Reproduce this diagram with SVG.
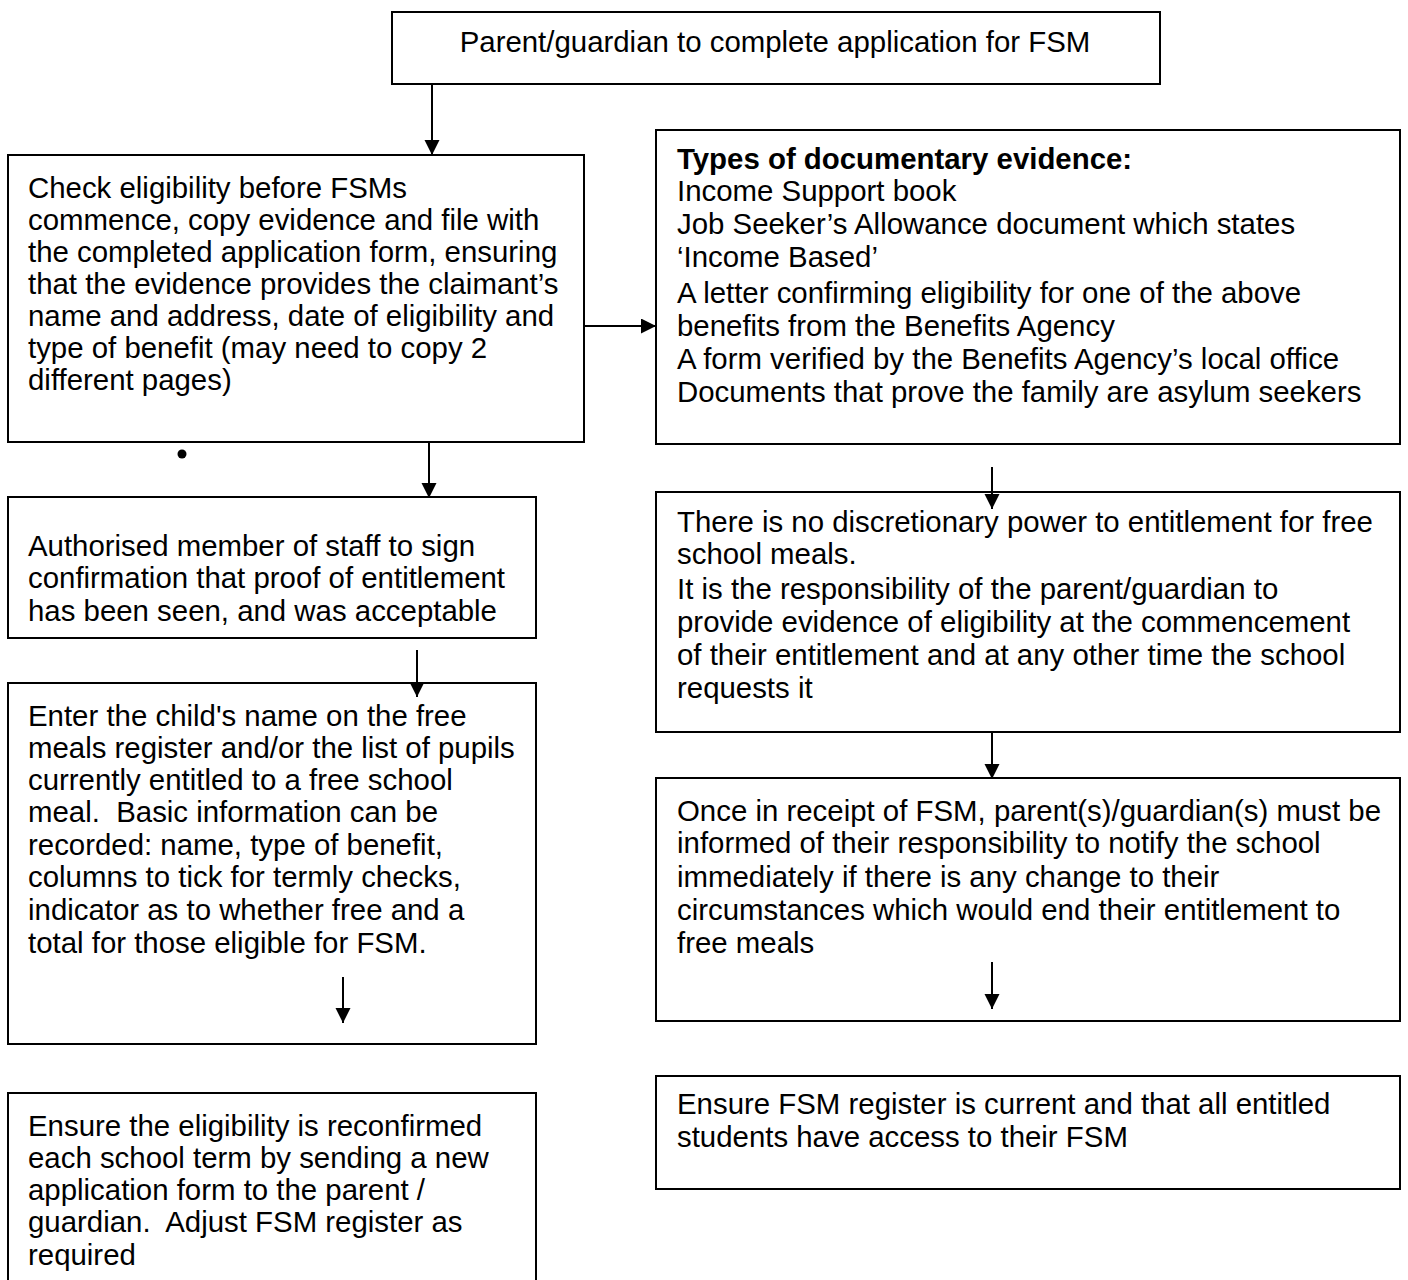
<svg xmlns="http://www.w3.org/2000/svg" width="1408" height="1280" viewBox="0 0 1408 1280">
<style>
.box{fill:#fff;stroke:#000;stroke-width:2}
.t{font-family:"Liberation Sans",Arial,sans-serif;font-size:29.4px;fill:#000;white-space:pre}
.b{font-weight:bold}
.c{stroke:#000;stroke-width:2;fill:none}
</style>
<defs>
<marker id="ah" markerUnits="userSpaceOnUse" markerWidth="16" markerHeight="16" refX="15" refY="7.5" orient="auto">
<path d="M0,0 L15,7.5 L0,15 Z" fill="#000"/>
</marker>
</defs>
<rect width="1408" height="1280" fill="#fff"/>
<g id="n1"><rect class="box" x="392" y="12" width="768" height="72"/>
<text class="t" x="775" y="52" text-anchor="middle">Parent/guardian to complete application for FSM</text></g>
<g id="n2"><rect class="box" x="8" y="155" width="576" height="287"/>
<text class="t"><tspan x="28" y="198">Check eligibility before FSMs</tspan><tspan x="28" y="230">commence, copy evidence and file with</tspan><tspan x="28" y="262">the completed application form, ensuring</tspan><tspan x="28" y="294">that the evidence provides the claimant’s</tspan><tspan x="28" y="326">name and address, date of eligibility and</tspan><tspan x="28" y="358">type of benefit (may need to copy 2</tspan><tspan x="28" y="390">different pages)</tspan></text></g>
<g id="bullet"><circle cx="182" cy="454" r="4.5" fill="#000"/></g>
<g id="n3"><rect class="box" x="656" y="130" width="744" height="314"/>
<text class="t"><tspan class="b" x="677" y="169">Types of documentary evidence:</tspan><tspan x="677" y="201">Income Support book</tspan><tspan x="677" y="234">Job Seeker’s Allowance document which states</tspan><tspan x="677" y="267">‘Income Based’</tspan><tspan x="677" y="303">A letter confirming eligibility for one of the above</tspan><tspan x="677" y="336">benefits from the Benefits Agency</tspan><tspan x="677" y="369">A form verified by the Benefits Agency’s local office</tspan><tspan x="677" y="402">Documents that prove the family are asylum seekers</tspan></text></g>
<g id="n4"><rect class="box" x="8" y="497" width="528" height="141"/>
<text class="t"><tspan x="28" y="556">Authorised member of staff to sign</tspan><tspan x="28" y="588">confirmation that proof of entitlement</tspan><tspan x="28" y="621">has been seen, and was acceptable</tspan></text></g>
<g id="n5"><rect class="box" x="8" y="683" width="528" height="361"/>
<text class="t"><tspan x="28" y="726">Enter the child's name on the free</tspan><tspan x="28" y="758">meals register and/or the list of pupils</tspan><tspan x="28" y="790">currently entitled to a free school</tspan><tspan x="28" y="822">meal.  Basic information can be</tspan><tspan x="28" y="855">recorded: name, type of benefit,</tspan><tspan x="28" y="887">columns to tick for termly checks,</tspan><tspan x="28" y="920">indicator as to whether free and a</tspan><tspan x="28" y="953">total for those eligible for FSM.</tspan></text></g>
<g id="n6"><rect class="box" x="8" y="1093" width="528" height="200"/>
<text class="t"><tspan x="28" y="1136">Ensure the eligibility is reconfirmed</tspan><tspan x="28" y="1168">each school term by sending a new</tspan><tspan x="28" y="1200">application form to the parent /</tspan><tspan x="28" y="1232">guardian.  Adjust FSM register as</tspan><tspan x="28" y="1265">required</tspan></text></g>
<g id="n7"><rect class="box" x="656" y="492" width="744" height="240"/>
<text class="t"><tspan x="677" y="532">There is no discretionary power to entitlement for free</tspan><tspan x="677" y="564">school meals.</tspan><tspan x="677" y="599">It is the responsibility of the parent/guardian to</tspan><tspan x="677" y="632">provide evidence of eligibility at the commencement</tspan><tspan x="677" y="665">of their entitlement and at any other time the school</tspan><tspan x="677" y="698">requests it</tspan></text></g>
<g id="n8"><rect class="box" x="656" y="778" width="744" height="243"/>
<text class="t"><tspan x="677" y="821">Once in receipt of FSM, parent(s)/guardian(s) must be</tspan><tspan x="677" y="853">informed of their responsibility to notify the school</tspan><tspan x="677" y="887">immediately if there is any change to their</tspan><tspan x="677" y="920">circumstances which would end their entitlement to</tspan><tspan x="677" y="953">free meals</tspan></text></g>
<g id="n9"><rect class="box" x="656" y="1076" width="744" height="113"/>
<text class="t"><tspan x="677" y="1114">Ensure FSM register is current and that all entitled</tspan><tspan x="677" y="1147">students have access to their FSM</tspan></text></g>
<g id="connectors">
<line class="c" x1="432" y1="84" x2="432" y2="155" marker-end="url(#ah)"/>
<line class="c" x1="584" y1="326" x2="656" y2="326" marker-end="url(#ah)"/>
<line class="c" x1="429" y1="442" x2="429" y2="498" marker-end="url(#ah)"/>
<line class="c" x1="417" y1="650" x2="417" y2="697" marker-end="url(#ah)"/>
<line class="c" x1="343" y1="977" x2="343" y2="1023" marker-end="url(#ah)"/>
<line class="c" x1="992" y1="467" x2="992" y2="509" marker-end="url(#ah)"/>
<line class="c" x1="992" y1="732" x2="992" y2="779" marker-end="url(#ah)"/>
<line class="c" x1="992" y1="962" x2="992" y2="1009" marker-end="url(#ah)"/>
</g>
</svg>
